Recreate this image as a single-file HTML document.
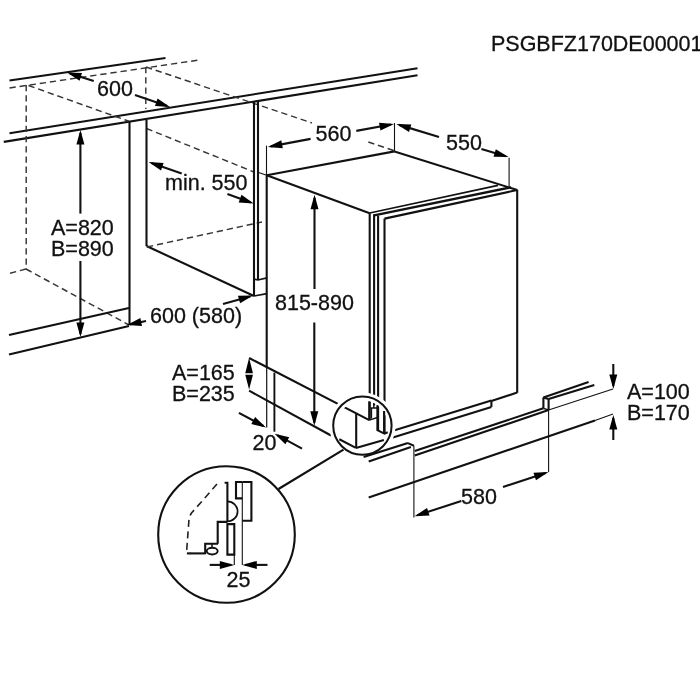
<!DOCTYPE html>
<html><head><meta charset="utf-8"><style>
html,body{margin:0;padding:0;background:#fff;width:700px;height:700px;overflow:hidden}
svg{display:block;will-change:transform}
text{font-family:"Liberation Sans",sans-serif;fill:#111;stroke:#111;stroke-width:0.3}
</style></head><body>
<svg width="700" height="700" viewBox="0 0 700 700" stroke="#111" stroke-linecap="butt">
<rect x="0" y="0" width="700" height="700" fill="#fff" stroke="none"/>
<line x1="9.5" y1="80.5" x2="165.5" y2="58" stroke-width="2.1"/>
<line x1="9.5" y1="88" x2="199" y2="60" stroke="#363636" stroke-width="1.45" stroke-dasharray="6.3 3.9"/>
<line x1="9.5" y1="133.2" x2="417.5" y2="68.3" stroke-width="2.1"/>
<line x1="3.75" y1="141.9" x2="417.5" y2="75.3" stroke-width="2.1"/>
<line x1="26.2" y1="85" x2="26.2" y2="269" stroke="#363636" stroke-width="1.45" stroke-dasharray="6.3 3.9"/>
<line x1="26" y1="269" x2="9" y2="273.6" stroke="#363636" stroke-width="1.45" stroke-dasharray="6.3 3.9"/>
<line x1="26" y1="269" x2="129" y2="325" stroke="#363636" stroke-width="1.45" stroke-dasharray="6.3 3.9"/>
<line x1="28.5" y1="85.5" x2="129" y2="121.3" stroke="#363636" stroke-width="1.45" stroke-dasharray="6.3 3.9"/>
<line x1="146.5" y1="128.5" x2="254" y2="172" stroke="#363636" stroke-width="1.45" stroke-dasharray="6.3 3.9"/>
<line x1="145.8" y1="67" x2="145.8" y2="109" stroke="#363636" stroke-width="1.45" stroke-dasharray="6.3 3.9"/>
<line x1="146" y1="67" x2="395" y2="151" stroke="#363636" stroke-width="1.45" stroke-dasharray="6.3 3.9"/>
<rect x="312" y="118" width="53" height="26" fill="#fff" stroke="none"/>
<line x1="129.5" y1="121" x2="129.5" y2="325" stroke-width="2.1"/>
<line x1="146.5" y1="120" x2="146.5" y2="246" stroke-width="2.1"/>
<line x1="146.5" y1="246" x2="254" y2="296" stroke-width="2.1"/>
<line x1="147" y1="247" x2="262" y2="222" stroke="#363636" stroke-width="1.45" stroke-dasharray="6.3 3.9"/>
<line x1="9" y1="335" x2="129" y2="308" stroke-width="2.1"/>
<line x1="9" y1="354.4" x2="129" y2="326" stroke-width="2.1"/>
<line x1="254" y1="101" x2="254" y2="296" stroke-width="2.1"/>
<line x1="258" y1="100.5" x2="258" y2="280" stroke-width="2.1"/>
<path d="M254,279 L258,280 L267,277.9" fill="none" stroke-width="1.7"/>
<line x1="254" y1="296" x2="267" y2="293.6" stroke-width="1.7"/>
<line x1="257.9" y1="172.3" x2="266.7" y2="175.2" stroke-width="1.1"/>
<line x1="93.75" y1="81" x2="69.85912805741731" y2="73.40850798086157" stroke-width="2.1"/>
<path d="M67.00,72.50 L82.03,73.08 L79.61,80.70 Z" fill="#000" stroke="none"/>
<line x1="135" y1="95" x2="167.16216216216216" y2="106.02702702702703" stroke-width="2.1"/>
<path d="M170.00,107.00 L154.99,106.08 L157.58,98.51 Z" fill="#000" stroke="none"/>
<line x1="80.4" y1="213.6" x2="80.4" y2="133.0" stroke-width="2.1"/>
<path d="M80.40,130.00 L84.40,144.50 L76.40,144.50 Z" fill="#000" stroke="none"/>
<line x1="80.4" y1="261" x2="80.4" y2="334.0" stroke-width="2.1"/>
<path d="M80.40,337.00 L76.40,322.50 L84.40,322.50 Z" fill="#000" stroke="none"/>
<line x1="181.7" y1="173.4" x2="151.43648301743366" y2="162.9769156011705" stroke-width="2.1"/>
<path d="M148.60,162.00 L163.61,162.94 L161.01,170.50 Z" fill="#000" stroke="none"/>
<line x1="227.4" y1="194" x2="250.88187325303997" y2="202.57133016080547" stroke-width="2.1"/>
<path d="M253.70,203.60 L238.71,202.39 L241.45,194.87 Z" fill="#000" stroke="none"/>
<line x1="146" y1="321" x2="129.93564935496025" y2="324.3819685568505" stroke-width="2.1"/>
<path d="M127.00,325.00 L140.36,318.10 L142.01,325.93 Z" fill="#000" stroke="none"/>
<line x1="223" y1="304" x2="250.11110794085747" y2="296.40888977655993" stroke-width="2.1"/>
<path d="M253.00,295.60 L240.12,303.36 L237.96,295.66 Z" fill="#000" stroke="none"/>
<line x1="266.7" y1="175.2" x2="394.5" y2="151.4" stroke-width="2.1"/>
<line x1="266.7" y1="175.2" x2="369.7" y2="213.2" stroke-width="2.1"/>
<line x1="394.5" y1="151.4" x2="517.2" y2="190" stroke-width="2.1"/>
<line x1="266.7" y1="175.2" x2="266.7" y2="367.5" stroke-width="2.1"/>
<line x1="266.7" y1="367" x2="266.7" y2="427.5" stroke-width="1.2"/>
<line x1="369.7" y1="213.2" x2="369.7" y2="420.1" stroke-width="2.1"/>
<line x1="374.1" y1="214.2" x2="374.1" y2="405.5" stroke-width="2.1"/>
<line x1="378.1" y1="215.6" x2="378.1" y2="430.1" stroke-width="2.1"/>
<line x1="384.5" y1="218.6" x2="384.5" y2="433.3" stroke-width="2.1"/>
<line x1="369.7" y1="213.0" x2="498" y2="185.4" stroke-width="1.6"/>
<line x1="374.1" y1="215.4" x2="510.9" y2="187.3" stroke-width="2.4"/>
<line x1="384.5" y1="218.6" x2="517.2" y2="190" stroke-width="2.1"/>
<line x1="517.2" y1="189.7" x2="517.2" y2="392.8" stroke-width="2.1"/>
<line x1="266.5" y1="145.7" x2="266.5" y2="175.4" stroke-width="1.1"/>
<line x1="394.5" y1="123" x2="394.5" y2="151.4" stroke-width="1.1"/>
<line x1="509.1" y1="157.7" x2="509.1" y2="186.3" stroke-width="1.1"/>
<line x1="310.6" y1="138.9" x2="270.7489280921319" y2="146.34879848745197" stroke-width="2.1"/>
<path d="M267.80,146.90 L281.32,140.30 L282.79,148.17 Z" fill="#000" stroke="none"/>
<line x1="356.3" y1="130.9" x2="391.049018482077" y2="124.54010006561455" stroke-width="2.1"/>
<path d="M394.00,124.00 L380.46,130.55 L379.02,122.68 Z" fill="#000" stroke="none"/>
<line x1="439" y1="137" x2="399.1699402305542" y2="124.8737522950165" stroke-width="2.1"/>
<path d="M396.30,124.00 L411.34,124.40 L409.01,132.05 Z" fill="#000" stroke="none"/>
<line x1="481.4" y1="149.1" x2="505.7219034952862" y2="156.25350102802534" stroke-width="2.1"/>
<path d="M508.60,157.10 L493.56,156.85 L495.82,149.17 Z" fill="#000" stroke="none"/>
<line x1="314.5" y1="289" x2="314.5" y2="197.8" stroke-width="2.1"/>
<path d="M314.50,194.80 L318.50,209.30 L310.50,209.30 Z" fill="#000" stroke="none"/>
<line x1="314.3" y1="322.5" x2="314.3" y2="422.8" stroke-width="2.1"/>
<path d="M314.30,425.80 L310.30,411.30 L318.30,411.30 Z" fill="#000" stroke="none"/>
<line x1="249.1" y1="358" x2="369.3" y2="420.1" stroke-width="2.1"/>
<line x1="249.1" y1="390.7" x2="331" y2="435.5" stroke-width="2.1"/>
<path d="M249.10,357.70 L252.95,373.30 L245.25,373.30 Z" fill="#000" stroke="none"/>
<path d="M249.10,389.60 L245.25,374.70 L252.95,374.70 Z" fill="#000" stroke="none"/>
<line x1="274.4" y1="372.6" x2="274.4" y2="431.7" stroke-width="1.9"/>
<line x1="238.9" y1="412.9" x2="263.35483490969585" y2="425.9846902653354" stroke-width="2.1"/>
<path d="M266.00,427.40 L251.33,424.09 L255.10,417.03 Z" fill="#000" stroke="none"/>
<line x1="302" y1="448.7" x2="277.23148144531405" y2="435.1405920321062" stroke-width="2.1"/>
<path d="M274.60,433.70 L289.24,437.15 L285.40,444.17 Z" fill="#000" stroke="none"/>
<line x1="394.6" y1="430.3" x2="491.4" y2="400.5" stroke-width="2.1"/>
<line x1="392.9" y1="437.6" x2="491.4" y2="406.9" stroke-width="2.1"/>
<line x1="491.4" y1="400.5" x2="491.4" y2="406.9" stroke-width="2.1"/>
<line x1="491.4" y1="401" x2="517.2" y2="392.6" stroke-width="2.1"/>
<circle cx="362.4" cy="425.6" r="29.2" fill="none" stroke="#fff" stroke-width="8"/>
<circle cx="362.4" cy="425.6" r="29.2" fill="none" stroke-width="2"/>
<line x1="339.3" y1="439.3" x2="355.9" y2="447.9" stroke-width="2.1"/>
<line x1="356.2" y1="414" x2="356.2" y2="447.9" stroke-width="2.1"/>
<line x1="355.9" y1="447.9" x2="383.9" y2="439.9" stroke-width="2.1"/>
<line x1="369.3" y1="401.4" x2="369.3" y2="420.1" stroke-width="2.1"/>
<line x1="384.1" y1="411" x2="384.1" y2="433.3" stroke-width="2.1"/>
<path d="M377.4,405.3 L377.4,430.1 L384.5,433.6 L387.7,432.3" fill="none" stroke-width="2.1"/>
<path d="M369.3,420.1 L377.4,417.5" fill="none" stroke-width="1.5"/>
<path d="M370.5,408 L377.4,408" fill="none" stroke-width="1.5"/>
<line x1="373.8" y1="403.4" x2="373.8" y2="408" stroke-width="1.4"/>
<line x1="371.5" y1="408" x2="371.5" y2="418.5" stroke-width="1.3"/>
<line x1="363.6" y1="457.1" x2="407.9" y2="443.1" stroke-width="2.1"/>
<line x1="368.7" y1="461.4" x2="410.9" y2="447" stroke-width="2.1"/>
<line x1="407.9" y1="443.1" x2="413.9" y2="445.7" stroke-width="2.1"/>
<line x1="413.9" y1="445.7" x2="413.9" y2="517.5" stroke-width="1.1"/>
<line x1="414.7" y1="450.9" x2="543.4" y2="408.3" stroke-width="2.1"/>
<line x1="414.7" y1="455.6" x2="548.6" y2="410" stroke-width="2.1"/>
<line x1="543.4" y1="397.4" x2="543.4" y2="408.3" stroke-width="2.1"/>
<line x1="548.6" y1="399.1" x2="548.6" y2="410" stroke-width="2.1"/>
<line x1="543.4" y1="397.4" x2="548.6" y2="399.1" stroke-width="2.1"/>
<line x1="543.4" y1="408.3" x2="548.6" y2="410" stroke-width="1.4"/>
<line x1="543.4" y1="397.4" x2="588.6" y2="382" stroke-width="2.1"/>
<line x1="548.6" y1="399.1" x2="594.3" y2="384.9" stroke-width="2.1"/>
<line x1="548.6" y1="410" x2="613" y2="389" stroke-width="1.1"/>
<line x1="548.6" y1="410" x2="548.6" y2="472" stroke-width="1.1"/>
<line x1="368.7" y1="497.4" x2="595" y2="420.5" stroke-width="2.1"/>
<line x1="595" y1="420.5" x2="613" y2="414" stroke-width="1.1"/>
<line x1="613.3" y1="364" x2="613.3" y2="386.0" stroke-width="2.1"/>
<path d="M613.30,389.00 L609.30,374.50 L617.30,374.50 Z" fill="#000" stroke="none"/>
<line x1="613.3" y1="440" x2="613.3" y2="418.0" stroke-width="2.1"/>
<path d="M613.30,415.00 L617.30,429.50 L609.30,429.50 Z" fill="#000" stroke="none"/>
<line x1="503" y1="487" x2="545.6508346546343" y2="472.93928527869195" stroke-width="2.1"/>
<path d="M548.50,472.00 L535.98,480.34 L533.48,472.74 Z" fill="#000" stroke="none"/>
<line x1="461.3" y1="500.9" x2="417.3496822283957" y2="515.3622840530493" stroke-width="2.1"/>
<path d="M414.50,516.30 L427.02,507.97 L429.52,515.57 Z" fill="#000" stroke="none"/>
<circle cx="226.5" cy="534.5" r="68.3" fill="#fff" stroke="#fff" stroke-width="7"/>
<circle cx="226.5" cy="534.5" r="68.3" fill="none" stroke-width="2.1"/>
<path d="M242.3,482 L251.4,482 L251.4,520.7 L242.3,520.7" fill="none" stroke-width="2.1"/>
<path d="M242.3,482 L236,482 L236,498.4 L242.3,498.4" fill="none" stroke-width="2.1"/>
<line x1="242.3" y1="482" x2="242.3" y2="565" stroke-width="1.1"/>
<path d="M224.6,482.8 L227.4,482.8 L227.4,521.9" fill="none" stroke-width="2.1"/>
<path d="M227.4,501.4 A10.2,10 0 0 1 227.4,521.4" fill="none" stroke-width="1.7"/>
<path d="M227.4,521.9 L217.7,521.9 L217.7,543.7" fill="none" stroke-width="2.1"/>
<path d="M227.4,524.1 L234.3,524.1 L234.3,554.6 L227.4,554.6 Z" fill="none" stroke-width="2.1"/>
<line x1="234.3" y1="554.6" x2="234.3" y2="565" stroke-width="1.1"/>
<path d="M186.9,553.4 L205.7,553.4" fill="none" stroke-width="2.1"/>
<path d="M205.2,554 L205.2,543.7 L218,543.7" fill="none" stroke-width="2.1"/>
<ellipse cx="212.2" cy="551.1" rx="5.5" ry="3.4" fill="none" stroke-width="1.9"/>
<line x1="212" y1="543.7" x2="212" y2="547.6" stroke-width="1.5"/>
<path d="M217,484 L203,500 Q196,508 191.5,513 Q189,517 188.8,522 L186.8,549 Q187,553.4 191,553.4" fill="none" stroke="#222" stroke-width="1.6" stroke-dasharray="7 4.5"/>
<line x1="209.7" y1="564.9" x2="231.3" y2="564.9" stroke-width="2.1"/>
<path d="M234.30,564.90 L219.80,568.90 L219.80,560.90 Z" fill="#000" stroke="none"/>
<line x1="267.5" y1="564.9" x2="245.3" y2="564.9" stroke-width="2.1"/>
<path d="M242.30,564.90 L256.80,560.90 L256.80,568.90 Z" fill="#000" stroke="none"/>
<line x1="278.5" y1="489" x2="343.5" y2="449.7" stroke-width="2.1"/>
<text x="702.5" y="51" font-size="21.5" text-anchor="end">PSGBFZ170DE00001</text>
<text x="97" y="96" font-size="21.5" text-anchor="start">600</text>
<text x="315.5" y="141" font-size="21.5" text-anchor="start">560</text>
<text x="446" y="150" font-size="21.5" text-anchor="start">550</text>
<text x="165" y="190" font-size="21.5" text-anchor="start">min. 550</text>
<text x="51" y="235" font-size="21.5" text-anchor="start">A=820</text>
<text x="51" y="256" font-size="21.5" text-anchor="start">B=890</text>
<text x="275" y="310" font-size="21.5" text-anchor="start">815-890</text>
<text x="150" y="323" font-size="21.5" text-anchor="start">600 (580)</text>
<text x="172" y="380" font-size="21.5" text-anchor="start">A=165</text>
<text x="172" y="401" font-size="21.5" text-anchor="start">B=235</text>
<text x="252.5" y="450" font-size="21.5" text-anchor="start">20</text>
<text x="461" y="504" font-size="21.5" text-anchor="start">580</text>
<text x="627" y="398.5" font-size="21.5" text-anchor="start">A=100</text>
<text x="627" y="420" font-size="21.5" text-anchor="start">B=170</text>
<text x="226.5" y="587" font-size="21.5" text-anchor="start">25</text>
</svg></body></html>
